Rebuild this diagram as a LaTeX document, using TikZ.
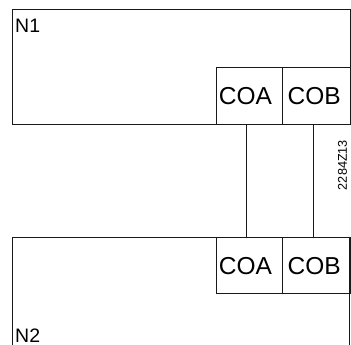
\documentclass[tikz,border=0pt]{standalone}
\usepackage{fontspec}
\setmainfont{Liberation Sans}
\tikzset{
  frame/.style={rectangle, draw=black!90, line width=1pt, inner sep=0pt, outer sep=0pt},
  openframe/.style={rectangle, draw=none, inner sep=0pt, outer sep=0pt},
  wire/.style={draw=black!90, line width=1pt},
  biglbl/.style={inner sep=0pt, outer sep=0pt, font=\fontsize{24.5}{28}\selectfont},
  namelbl/.style={inner sep=0pt, outer sep=0pt, font=\fontsize{19.5}{22}\selectfont},
  codelbl/.style={inner sep=0pt, outer sep=0pt, rotate=90, font=\fontsize{12.7}{14}\selectfont}
}
\begin{document}
\begin{tikzpicture}[x=1pt, y=-1pt]
\useasboundingbox (0,0) rectangle (351,345);
% device N1
\node[frame, minimum width=338pt, minimum height=114.5pt, anchor=north west] (n1) at (12.5,10) {};
\node[frame, minimum width=66.5pt, minimum height=57.2pt, anchor=south west] (coa1) at (216,124.5) {};
\node[frame, minimum width=68pt, minimum height=57.2pt, anchor=south west] (cob1) at (282.5,124.5) {};
\node[namelbl, anchor=base west] (n1t) at (15.2,32.3) {N1};
\node[biglbl, anchor=base] (coa1t) at (245.5,104.3) {COA};
\node[biglbl, anchor=base] (cob1t) at (314.2,104.3) {COB};
% device N2 (open at the bottom)
\node[openframe, minimum width=337pt, minimum height=130pt, anchor=north west] (n2) at (12.5,237.3) {};
\draw[wire] (n2.south west) |- (n2.north east) -- (n2.south east);
\node[frame, minimum width=66.5pt, minimum height=56pt, anchor=north west] (coa2) at (216,237.3) {};
\node[frame, minimum width=68pt, minimum height=56pt, anchor=north west] (cob2) at (282.5,237.3) {};
\node[namelbl, anchor=base west] (n2t) at (15.2,342) {N2};
\node[biglbl, anchor=base] (coa2t) at (245.5,274) {COA};
\node[biglbl, anchor=base] (cob2t) at (314.2,274) {COB};
% connectors
\draw[wire] ([xshift=-2.6pt]coa1.south) -- ([xshift=-2.6pt]coa2.north);
\draw[wire] ([xshift=-3.2pt]cob1.south) -- ([xshift=-3.2pt]cob2.north);
% drawing code
\node[codelbl] (code) at (342.5,165) {2284Z13};
\end{tikzpicture}
\end{document}
